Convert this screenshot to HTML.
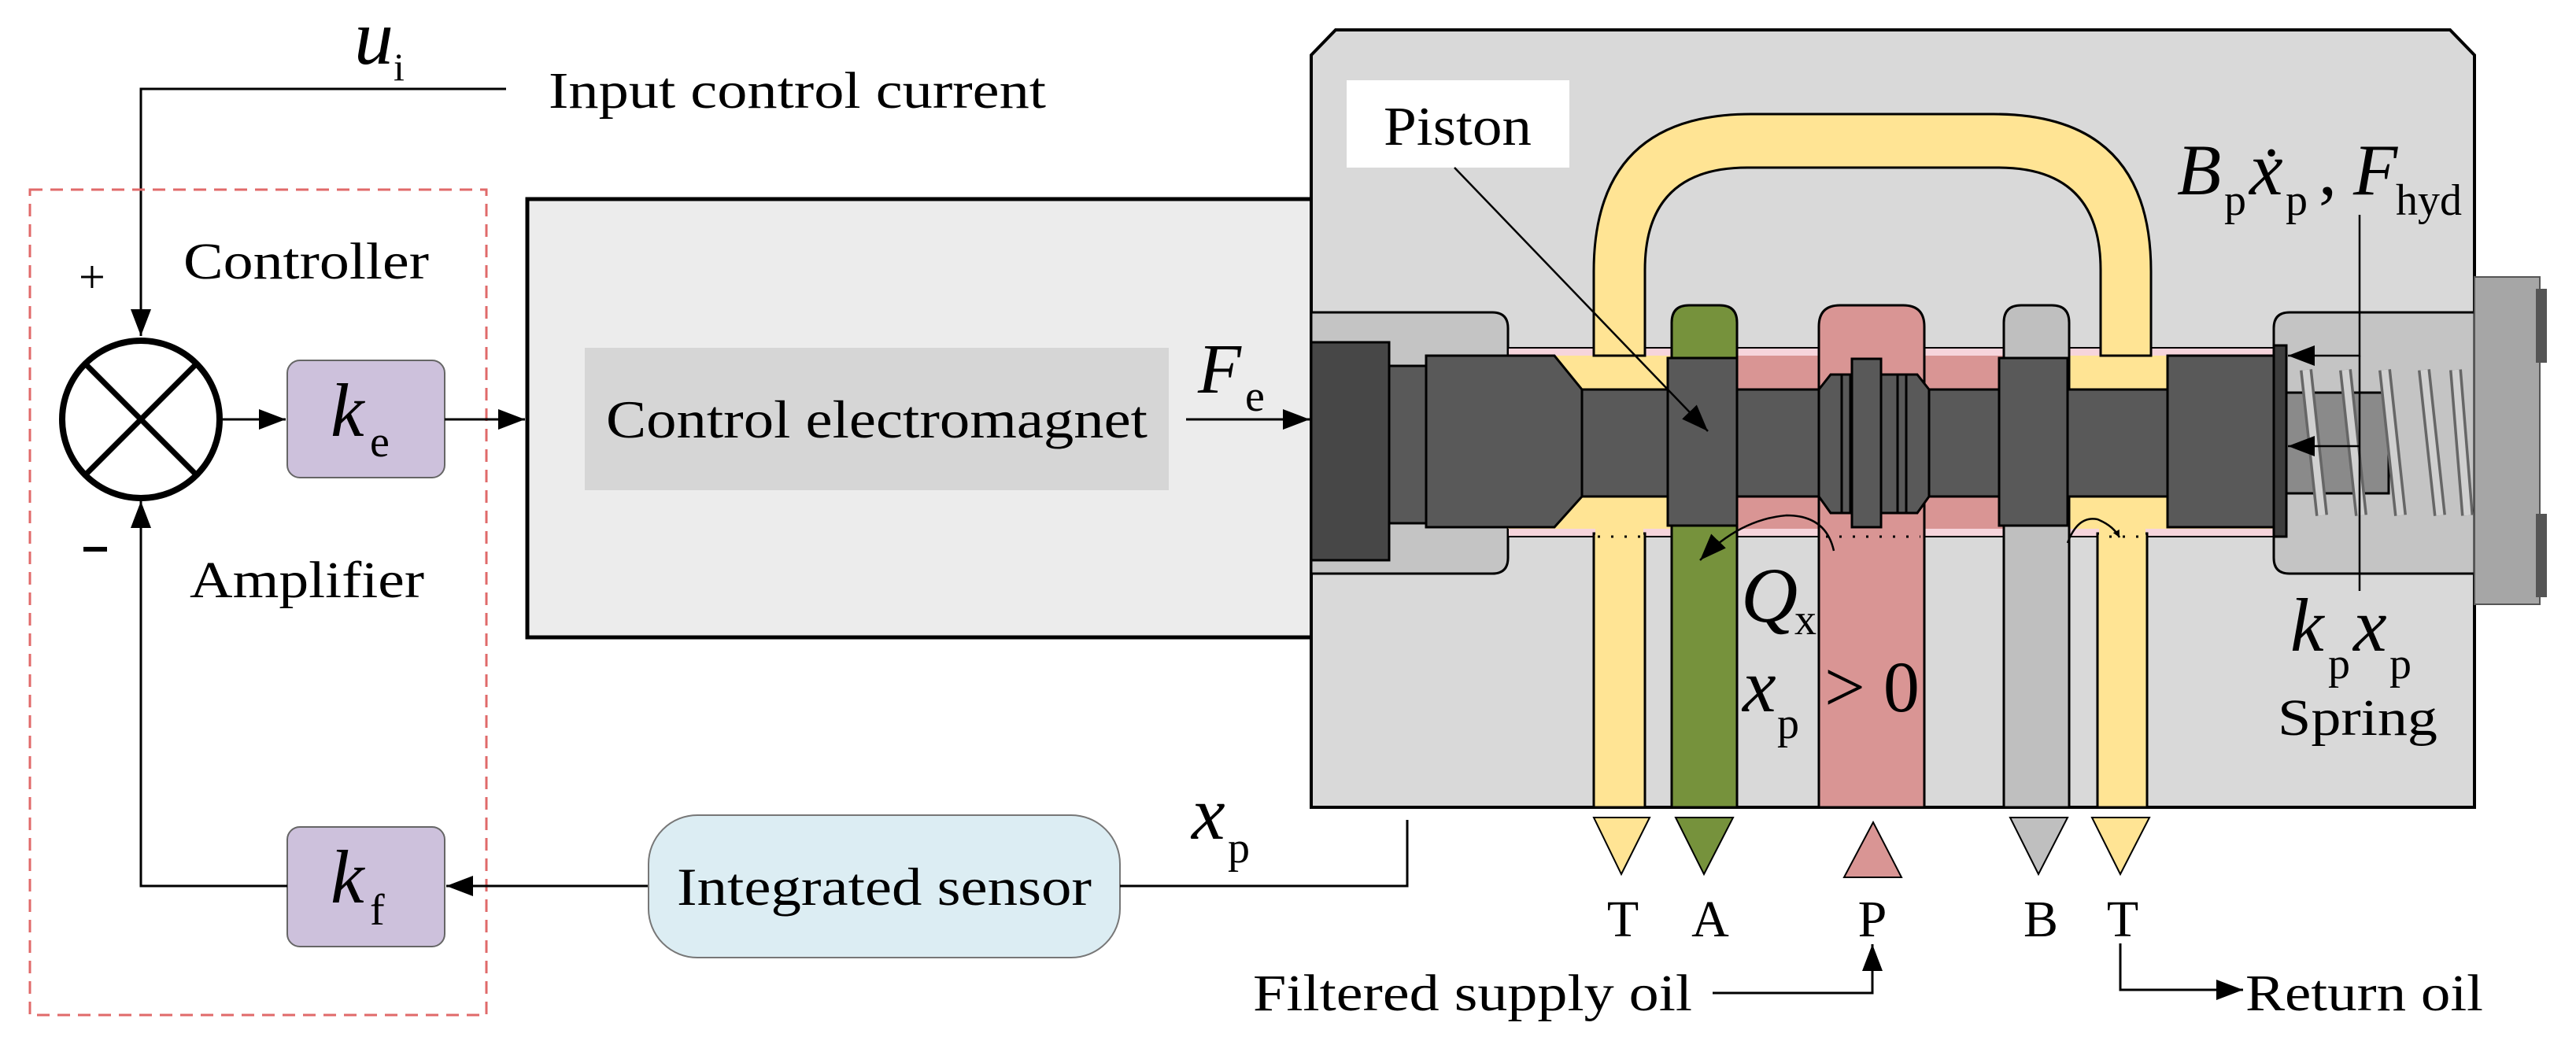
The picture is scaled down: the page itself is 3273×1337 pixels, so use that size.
<!DOCTYPE html>
<html><head><meta charset="utf-8"><style>
html,body{margin:0;padding:0;background:#fff;}
svg{display:block;}
text{font-family:"Liberation Serif",serif;fill:#000;}
</style></head><body>
<svg width="3273" height="1337" viewBox="0 0 3273 1337" xmlns="http://www.w3.org/2000/svg">
<defs>
<marker id="ar" viewBox="0 0 10 10" refX="10" refY="5" markerWidth="9" markerHeight="9" markerUnits="userSpaceOnUse" orient="auto"><path d="M0,0 L10,5 L0,10 z" fill="#000"/></marker>
<marker id="ab" viewBox="0 0 10 10" refX="10" refY="5" markerWidth="34" markerHeight="26" markerUnits="userSpaceOnUse" orient="auto" preserveAspectRatio="none"><path d="M0,0 L10,5 L0,10 z" fill="#000"/></marker>
</defs>

<!-- Left control part -->
<text x="450" y="81" font-size="100" font-style="italic">u</text>
<text x="500" y="102" font-size="50">i</text>
<polyline points="643,113 179,113 179,427" fill="none" stroke="#000" stroke-width="3" marker-end="url(#ab)"/>
<text x="697" y="137" font-size="66" textLength="632" lengthAdjust="spacingAndGlyphs">Input control current</text>

<rect x="38" y="241" width="580" height="1049" fill="none" stroke="#e06a6a" stroke-width="3" stroke-dasharray="16,10"/>
<text x="100" y="372" font-size="60">+</text>
<text x="233" y="354" font-size="66" textLength="312" lengthAdjust="spacingAndGlyphs">Controller</text>
<text x="241" y="759" font-size="66" textLength="298" lengthAdjust="spacingAndGlyphs">Amplifier</text>
<rect x="106" y="695" width="30" height="6" fill="#000"/>

<circle cx="179" cy="533" r="100" fill="#fff" stroke="#000" stroke-width="8"/>
<line x1="108" y1="462" x2="250" y2="604" stroke="#000" stroke-width="7"/>
<line x1="250" y1="462" x2="108" y2="604" stroke="#000" stroke-width="7"/>
<line x1="283" y1="533" x2="363" y2="533" stroke="#000" stroke-width="3" marker-end="url(#ab)"/>

<rect x="365" y="458" width="200" height="149" rx="16" fill="#cdc1dc" stroke="#666" stroke-width="2"/>
<text x="420" y="554" font-size="96" font-style="italic">k</text>
<text x="470" y="580" font-size="56">e</text>
<line x1="565" y1="533" x2="667" y2="533" stroke="#000" stroke-width="3" marker-end="url(#ab)"/>

<rect x="670" y="253" width="1010" height="557" fill="#ececec" stroke="#000" stroke-width="5"/>
<rect x="743" y="442" width="742" height="181" fill="#d6d6d6"/>
<text x="770" y="556" font-size="68" textLength="688" lengthAdjust="spacingAndGlyphs">Control electromagnet</text>
<text x="1522" y="499" font-size="90" font-style="italic">F</text>
<text x="1582" y="522" font-size="56">e</text>
<line x1="1507" y1="533" x2="1664" y2="533" stroke="#000" stroke-width="3" marker-end="url(#ab)"/>

<rect x="365" y="1051" width="200" height="152" rx="16" fill="#cdc1dc" stroke="#666" stroke-width="2"/>
<text x="420" y="1147" font-size="96" font-style="italic">k</text>
<text x="470" y="1175" font-size="56">f</text>
<polyline points="365,1126 179,1126 179,637" fill="none" stroke="#000" stroke-width="3" marker-end="url(#ab)"/>
<line x1="824" y1="1126" x2="567" y2="1126" stroke="#000" stroke-width="3" marker-end="url(#ab)"/>
<rect x="824" y="1036" width="599" height="181" rx="62" fill="#dcedf3" stroke="#777" stroke-width="2"/>
<text x="860" y="1150" font-size="68" textLength="527" lengthAdjust="spacingAndGlyphs">Integrated sensor</text>
<text x="1514" y="1066" font-size="96" font-style="italic">x</text>
<text x="1560" y="1096" font-size="56">p</text>
<polyline points="1423,1126 1788,1126 1788,1042" fill="none" stroke="#000" stroke-width="3"/>

<!-- Valve body -->
<path d="M1666,70 L1697,38 L3113,38 L3144,70 L3144,1026 L1666,1026 Z" fill="#d9d9d9" stroke="#000" stroke-width="4"/>
<path d="M1666,397 L1896,397 Q1916,397 1916,417 L1916,709 Q1916,729 1896,729 L1666,729 Z" fill="#c4c4c4" stroke="#000" stroke-width="3"/>
<path d="M3144,397 L2909,397 Q2889,397 2889,417 L2889,709 Q2889,729 2909,729 L3144,729 Z" fill="#c4c4c4" stroke="#000" stroke-width="3"/>
<rect x="3144" y="352" width="83" height="416" fill="#a6a6a6" stroke="#555" stroke-width="2"/>
<rect x="3222" y="367" width="14" height="94" fill="#555"/>
<rect x="3222" y="653" width="14" height="106" fill="#555"/>

<!-- bore -->
<rect x="1916" y="442" width="973" height="240" fill="#f6d5dc" stroke="#000" stroke-width="2"/>
<rect x="1916" y="452" width="973" height="220" fill="#d99594"/>
<rect x="1916" y="452" width="250" height="220" fill="#ffe494"/>
<rect x="2580" y="452" width="309" height="220" fill="#ffe494"/>

<!-- yellow U channel -->
<path d="M2025,452 L2025,345 Q2025,145 2225,145 L2533,145 Q2733,145 2733,345 L2733,452 L2669,452 L2669,343 Q2669,213 2539,213 L2220,213 Q2090,213 2090,343 L2090,452 Z" fill="#ffe494" stroke="#000" stroke-width="3"/>

<!-- ports -->
<rect x="2025" y="678" width="65" height="348" fill="#ffe494" stroke="#000" stroke-width="3"/>
<path d="M2124,1026 L2124,410 Q2124,388 2146,388 L2185,388 Q2207,388 2207,410 L2207,1026 Z" fill="#76923c" stroke="#000" stroke-width="3"/>
<path d="M2311,1026 L2311,415 Q2311,388 2338,388 L2418,388 Q2445,388 2445,415 L2445,1026 Z" fill="#d99594" stroke="#000" stroke-width="3"/>
<path d="M2546,1026 L2546,410 Q2546,388 2568,388 L2607,388 Q2629,388 2629,410 L2629,1026 Z" fill="#bfbfbf" stroke="#000" stroke-width="3"/>
<rect x="2665" y="678" width="63" height="348" fill="#ffe494" stroke="#000" stroke-width="3"/>
<rect x="2027" y="670" width="61" height="14" fill="#ffe494"/>
<rect x="2667" y="670" width="59" height="14" fill="#ffe494"/>
<rect x="2126" y="445" width="79" height="232" fill="#76923c"/>
<rect x="2313" y="445" width="130" height="237" fill="#d99594"/>
<rect x="2548" y="445" width="79" height="232" fill="#bfbfbf"/>

<!-- spool -->
<g stroke="#000" stroke-width="3" fill="#595959">
<rect x="1666" y="435" width="99" height="277" fill="#474747"/>
<rect x="1765" y="465" width="47" height="200"/>
<path d="M1812,452 L1975,452 L2010,495 L2010,631 L1975,670 L1812,670 Z"/>
<rect x="2010" y="495" width="745" height="136"/>
<rect x="2119" y="455" width="88" height="213"/>
<path d="M2311,495 L2326,476 L2436,476 L2451,495 L2451,631 L2436,652 L2326,652 L2311,631 Z"/>
<rect x="2340" y="476" width="11" height="176"/>
<rect x="2411" y="476" width="11" height="176"/>
<rect x="2353" y="456" width="37" height="214"/>
<rect x="2540" y="455" width="87" height="213"/>
<rect x="2754" y="452" width="135" height="218"/>
<rect x="2889" y="439" width="16" height="243" fill="#3d3d3d"/>
<rect x="2905" y="499" width="130" height="128" fill="#8a8a8a"/>
</g>
<!-- spring -->
<g fill="none" stroke="#666" stroke-width="16">
<path d="M2930,470 L2950,655 M2980,470 L3000,655 M3030,470 L3050,655 M3080,470 L3100,655 M3120,470 L3135,655"/>
</g>
<g fill="none" stroke="#d0d0d0" stroke-width="9">
<path d="M2930,470 L2950,655 M2980,470 L3000,655 M3030,470 L3050,655 M3080,470 L3100,655 M3120,470 L3135,655"/>
</g>

<!-- dotted lines -->
<g stroke="#000" stroke-width="3" stroke-dasharray="3,14">
<line x1="2030" y1="682" x2="2090" y2="682"/>
<line x1="2320" y1="682" x2="2440" y2="682"/>
<line x1="2680" y1="682" x2="2728" y2="682"/>
</g>

<!-- piston label -->
<rect x="1711" y="102" width="283" height="111" fill="#fff"/>
<text x="1758" y="184" font-size="70" textLength="188" lengthAdjust="spacingAndGlyphs">Piston</text>
<line x1="1848" y1="213" x2="2170" y2="548" stroke="#000" stroke-width="2.5" marker-end="url(#ab)"/>

<!-- flow arrows -->
<path d="M2330,700 Q2320,655 2270,655 Q2210,660 2160,712" fill="none" stroke="#000" stroke-width="2.5" marker-end="url(#ab)"/>
<path d="M2627,690 Q2640,655 2665,660 Q2685,668 2693,683" fill="none" stroke="#000" stroke-width="2.5" marker-end="url(#ar)"/>

<!-- labels in valve -->
<text x="2212" y="790" font-size="100" font-style="italic">Q</text>
<text x="2280" y="806" font-size="56">x</text>
<text x="2214" y="904" font-size="96" font-style="italic">x</text>
<text x="2258" y="938" font-size="56">p</text>
<text x="2318" y="904" font-size="92">&gt; 0</text>

<text x="2766" y="247" font-size="92" font-style="italic">B</text>
<text x="2826" y="273" font-size="56">p</text>
<text x="2858" y="247" font-size="96" font-style="italic">x</text>
<text x="2876" y="198" font-size="80">.</text>
<text x="2904" y="273" font-size="56">p</text>
<text x="2946" y="247" font-size="92">,</text>
<text x="2990" y="247" font-size="92" font-style="italic">F</text>
<text x="3044" y="273" font-size="56">hyd</text>
<polyline points="2998,273 2998,452 2907,452" fill="none" stroke="#000" stroke-width="2.5" marker-end="url(#ab)"/>
<line x1="2998" y1="452" x2="2998" y2="751" stroke="#000" stroke-width="2.5"/>
<line x1="2998" y1="567" x2="2907" y2="567" stroke="#000" stroke-width="2.5" marker-end="url(#ab)"/>
<text x="2910" y="827" font-size="96" font-style="italic">k</text>
<text x="2958" y="862" font-size="56">p</text>
<text x="2990" y="827" font-size="96" font-style="italic">x</text>
<text x="3036" y="862" font-size="56">p</text>
<text x="2894" y="934" font-size="66" textLength="203" lengthAdjust="spacingAndGlyphs">Spring</text>

<!-- port triangles -->
<polygon points="2025,1039 2096,1039 2060,1111" fill="#ffe494" stroke="#000" stroke-width="2"/>
<polygon points="2129,1039 2202,1039 2165,1111" fill="#76923c" stroke="#000" stroke-width="2"/>
<polygon points="2343,1115 2416,1115 2380,1045" fill="#d99594" stroke="#000" stroke-width="2"/>
<polygon points="2554,1039 2627,1039 2590,1111" fill="#bfbfbf" stroke="#000" stroke-width="2"/>
<polygon points="2658,1039 2731,1039 2694,1111" fill="#ffe494" stroke="#000" stroke-width="2"/>
<g font-size="66" text-anchor="middle">
<text x="2062" y="1190">T</text>
<text x="2173" y="1190">A</text>
<text x="2379" y="1190">P</text>
<text x="2593" y="1190">B</text>
<text x="2697" y="1190">T</text>
</g>
<text x="1592" y="1284" font-size="66" textLength="558" lengthAdjust="spacingAndGlyphs">Filtered supply oil</text>
<polyline points="2176,1262 2379,1262 2379,1200" fill="none" stroke="#000" stroke-width="3" marker-end="url(#ab)"/>
<polyline points="2694,1199 2694,1258 2850,1258" fill="none" stroke="#000" stroke-width="3" marker-end="url(#ab)"/>
<text x="2853" y="1284" font-size="66" textLength="302" lengthAdjust="spacingAndGlyphs">Return oil</text>
</svg>
</body></html>
